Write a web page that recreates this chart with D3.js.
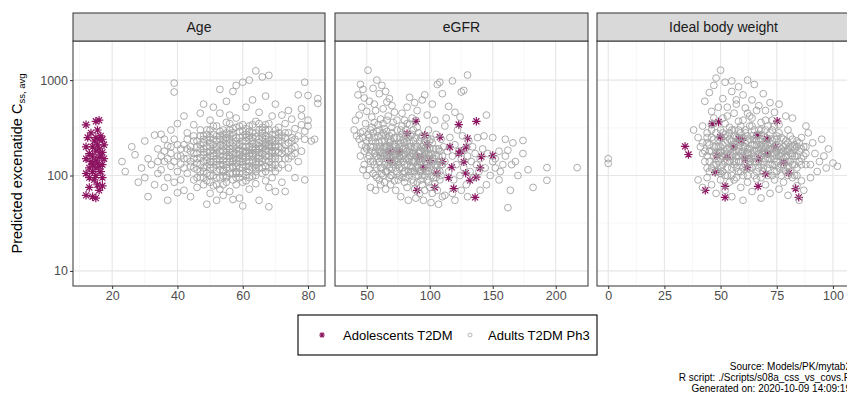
<!DOCTYPE html>
<html>
<head>
<meta charset="utf-8">
<script src="https://cdn.jsdelivr.net/npm/d3@7"></script>
<style>
  body { margin: 0; background: #fff; }
  svg { display: block; font-family: "Liberation Sans", Arial, sans-serif; }
</style>
</head>
<body>
<svg id="chart" width="847" height="398"></svg>
<script>
// Predicted Css,avg vs covariates, three facets

const panelNames = ["Age", "eGFR", "Ideal body weight"];
const yTicks = [10, 100, 1000];
const xTicks = [[20, 40, 60, 80], [50, 100, 150, 200], [0, 25, 50, 75, 100]];
const legendLabels = ["Adolescents T2DM", "Adults T2DM Ph3"];
const captionLines = [
    "Source: Models/PK/mytab2",
    "R script: ./Scripts/s08a_css_vs_covs.R",
    "Generated on: 2020-10-09 14:09:19"
];

// adolescents [covariate, css]
const teensAge = [[12,340],[12,150],[12,105],[12,200],[12.5,250],[13,120],[13,170],[13,75],[13,95],[13.5,280],
    [13.5,140],[14,200],[14,60],[14,130],[14,160],[14,110],[14.5,230],[14.5,90],[15,370],[15,180],[15,145],[15,58],
    [15,120],[15,250],[15,100],[15.5,300],[15.5,210],[15.5,135],[15.5,80],[16,380],[16,155],[16,240],[16,125],[16,190],
    [16,70],[16.5,260],[16.5,165],[16.5,110],[17,240],[17,175],[17,130],[17,78],[17,95],[17.5,150],[17.5,210],[12,62]];
const teensEgfr = [[89,370],[123,342],[137,370],[108,253],[68.5,177],[68.5,144],[96,264],[130,245],[123,170],[127,139],
    [141,158],[150,162],[128.5,106],[104,75],[90,70],[119,73],[136,59],[105.5,106],[137,96],[76,177],[92,156],[100,144],
    [117.5,122],[132,89],[116,199],[129,199],[82,275],[95,122],[110,140],[125,180],[140,120],[98,210],[115,95]];
const teensIbw = [[34.2,202],[35.7,166],[46.2,350],[49.1,364],[75.2,372],[49.9,253],[58,243],[66.3,264],[70.7,243],
    [48.4,162],[52.9,156],[61,150],[67,150],[70.7,169],[78.1,138],[80.4,106],[47.6,108],[61.8,122],[70,104],[52,77],
    [66.7,77],[43.2,70],[52,59],[83.4,73],[84.8,59],[55.8,199],[59.6,233],[74.4,199]];

// adults [covariate, css]
const adultsAge = [[23,140],[24,110],[26,200],[27,165],[28,85],[29,120],[30,95],[30,230],[31,60],[31,150],[32,130],
    [33,265],[33,80],[34,190],[34,105],[35,115],[35,270],[36,140],[36,75],[37,205],[37,95],[37,55],[38,170],[38,125],
    [38,300],[39,930],[39,750],[39,85],[39,240],[40,160],[40,110],[40,66],[40,350],[41,190],[41,132],[41,90],[42,420],
    [42,70],[42,210],[43,150],[43,105],[43,280],[44,180],[44,60],[44,125],[45,230],[45,90],[45,150],[45,340],[46,200],
    [46,115],[46,75],[46,170],[47,260],[47,130],[47,95],[47,450],[47,190],[48,560],[48,140],[48,80],[48,220],[48,165],
    [48,110],[49,300],[49,50],[49,175],[49,125],[49,240],[49,88],[50,140],[50,200],[50,380],[50,100],[50,65],[50,160],
    [51,270],[51,120],[51,185],[51,78],[51,520],[52,150],[52,230],[52,95],[52,170],[52,330],[52,55],[53,130],[53,210],
    [53,800],[53,115],[53,450],[53,260],[53,72],[54,180],[54,145],[54,98],[54,300],[54,62],[54,240],[55,160],[55,120],
    [55,600],[55,210],[55,85],[55,360],[55,190],[56,140],[56,270],[56,105],[56,175],[56,68],[56,430],[57,220],[57,150],
    [57,90],[57,310],[57,125],[57,760],[57,56],[58,190],[58,135],[58,250],[58,110],[58,880],[58,400],[58,80],[59,165],
    [59,210],[59,120],[59,290],[59,58],[59,95],[60,180],[60,140],[60,950],[60,340],[60,230],[60,105],[60,48],[61,200],
    [61,155],[61,270],[61,88],[61,125],[61,520],[62,170],[62,240],[62,1000],[62,115],[62,72],[62,330],[63,190],[63,145],
    [63,280],[63,98],[63,620],[63,215],[64,160],[64,1250],[64,255],[64,120],[64,370],[64,82],[65,200],[65,175],[65,300],
    [65,135],[65,55],[65,460],[66,230],[66,150],[66,1080],[66,105],[66,280],[67,190],[67,260],[67,125],[67,680],[67,88],
    [67,340],[68,210],[68,160],[68,1120],[68,300],[68,75],[68,47],[69,240],[69,180],[69,130],[69,420],[69,95],[70,270],
    [70,200],[70,150],[70,560],[70,110],[70,68],[71,230],[71,320],[71,175],[71,120],[72,260],[72,190],[72,430],[72,85],
    [73,210],[73,150],[73,350],[73,68],[74,280],[74,180],[74,120],[74,480],[75,230],[75,160],[75,390],[76,200],[76,310],
    [76,95],[77,260],[77,140],[77,700],[78,340],[78,180],[78,420],[78,500],[79,240],[79,950],[79,290],[79,90],[80,380],
    [80,690],[80,330],[81,230],[82,240],[83,640],[83,570],
    [46,135],[47,155],[48,190],[49,145],[50,120],[50,250],[51,160],[51,210],[52,130],[52,190],[53,160],[53,240],[54,130],
    [54,200],[55,140],[55,250],[56,160],[56,220],[57,180],[57,260],[58,150],[58,210],[59,140],[59,190],[60,160],[60,260],
    [61,180],[61,230],[62,140],[62,200],[63,170],[63,250],[64,190],[64,140],[65,220],[65,160],[66,190],[66,250],[67,160],
    [67,220],[68,180],[68,250],[69,200],[69,150],[70,230],[70,180],[52,110],[55,100],[58,105],[61,110],[64,100],[67,110],
    [48,260],[56,300],[62,290],[66,320],[60,120],[57,120],[54,115],[63,120],
    [44,200],[44,140],[45,120],[45,260],[45,170],[46,230],[46,150],[46,95],[47,210],[47,110],[47,300],[48,175],[48,240],
    [48,120],[48,95],[49,200],[49,155],[49,270],[49,105],[50,180],[50,130],[50,220],[50,85],[50,300],[51,140],[51,240],
    [51,100],[51,170],[51,330],[52,200],[52,260],[52,140],[52,80],[53,180],[53,145],[53,290],[53,95],[54,160],[54,220],
    [54,270],[54,110],[54,80],[55,175],[55,230],[55,130],[55,280],[55,95],[56,190],[56,240],[56,120],[56,150],[56,350],
    [57,165],[57,200],[57,280],[57,105],[57,140],[58,170],[58,230],[58,125],[58,320],[58,95],[59,180],[59,250],[59,150],
    [59,105],[59,330],[60,200],[60,150],[60,290],[60,130],[60,85],[61,170],[61,140],[61,250],[61,310],[61,100],[62,185],
    [62,160],[62,260],[62,125],[62,95],[63,200],[63,160],[63,230],[63,135],[63,340],[64,210],[64,175],[64,280],[64,130],
    [64,110],[65,190],[65,240],[65,150],[65,120],[65,350],[66,200],[66,170],[66,140],[66,300],[66,120],[67,210],[67,180],
    [67,240],[67,145],[67,300],[68,230],[68,200],[68,140],[68,120],[68,350],[69,220],[69,170],[69,270],[69,120],[70,210],
    [70,160],[70,300],[70,130],[71,250],[71,200],[71,150],[71,280],[72,230],[72,170],[72,130],[73,250],[73,180],[73,280],
    [74,220],[74,150],[75,250],[75,190],[76,240],[76,170],[42,150],[42,120],[43,190],[43,240],[41,160],[40,210],[39,140],
    [38,200],[36,180],[36,240],[37,150],[35,160],[34,140]];
const adultsEgfr = [[51,1270],[45,900],[47,800],[43,700],[55,820],[48,650],[52,600],[56,560],[60,720],[62,880],[65,760],
    [58,1000],[68,640],[46,520],[50,470],[44,430],[41,380],[57,480],[63,500],[66,590],[70,540],[72,460],[54,410],[49,350],
    [61,390],[67,420],[74,380],[40,300],[42,260],[44,240],[46,210],[47,290],[48,180],[50,230],[51,270],[52,160],[53,200],
    [54,320],[55,140],[56,250],[57,180],[58,290],[59,150],[60,220],[61,120],[62,260],[63,170],[64,310],[65,140],[66,200],
    [67,240],[68,160],[69,190],[70,280],[71,130],[72,210],[73,170],[74,250],[75,150],[48,130],[52,115],[55,105],[58,95],
    [60,90],[62,105],[64,85],[66,110],[68,95],[70,100],[72,88],[74,110],[53,75],[57,70],[61,80],[65,72],[69,80],[73,70],
    [50,100],[45,160],[47,115],[76,200],[77,300],[78,160],[79,240],[80,130],[81,190],[82,350],[83,150],[84,220],[85,110],
    [86,270],[87,170],[88,140],[89,210],[90,320],[91,120],[92,180],[93,250],[94,100],[95,160],[96,230],[97,140],[98,190],
    [99,300],[100,120],[101,170],[102,220],[103,95],[104,150],[105,270],[106,130],[107,190],[108,110],[109,240],[110,160],
    [76,120],[78,95],[80,85],[82,75],[84,100],[86,90],[88,72],[90,85],[92,65],[94,80],[96,70],[98,90],[100,75],[102,65],
    [104,82],[106,70],[108,90],[110,60],[77,60],[83,55],[89,58],[95,55],[101,52],[107,50],[112,62],[75,180],[79,140],
    [81,260],[83,200],[85,160],[87,230],[89,120],[91,280],[93,140],[95,210],[97,110],[99,170],[101,240],[103,140],[105,190],
    [107,160],[109,130],[111,200],[78,450],[82,520],[86,400],[90,480],[94,620],[98,430],[102,560],[106,900],[108,950],
    [110,720],[104,380],[96,700],[88,580],[84,660],[80,380],[115,530],[120,460],[113,400],[124,410],[125,750],[118,980],
    [112,330],[130,1130],[127,780],[145,430],[112,140],[114,180],[115,110],[116,250],[118,160],[119,90],[120,210],
    [121,130],[122,300],[123,180],[124,100],[125,150],[126,260],[127,120],[128,190],[129,80],[130,160],[131,230],[132,110],
    [133,140],[134,200],[135,95],[136,170],[137,130],[138,250],[139,110],[140,150],[142,190],[144,120],[146,170],[148,100],
    [150,140],[152,120],[155,180],[158,130],[152,150],[156,110],[160,160],[162,184],[165,130],[168,140],[170,100],[174,233],
    [174,170],[178,115],[182,75],[164,70],[162,46],[193,121],[193,89],[217,121],[160,240],[166,220],[150,250],[155,90],
    [145,80],[140,70],[130,60],[120,55],[125,70],[118,65],[143,260],
    [60,180],[64,200],[68,220],[72,180],[76,160],[80,170],[84,180],[88,190],[92,150],[96,180],[100,190],[66,160],[70,140],
    [74,140],[78,200],[82,230],[86,140],[90,160],[94,200],[98,150],[62,150],[58,200],[56,170],[54,230],[64,130],[76,100],
    [86,120],[92,110],[98,120],[104,110],
    [50,190],[52,250],[53,140],[54,180],[55,280],[56,130],[57,220],[58,160],[59,260],[60,140],[60,300],[61,200],[61,160],
    [62,230],[62,120],[63,190],[63,280],[64,160],[64,230],[65,200],[65,260],[65,110],[66,150],[66,290],[67,180],[67,130],
    [68,200],[68,260],[68,120],[69,150],[69,230],[70,180],[70,120],[70,320],[71,210],[71,160],[72,250],[72,140],[73,200],
    [73,120],[74,170],[74,300],[75,210],[75,130],[76,250],[76,180],[77,150],[77,220],[78,120],[78,270],[79,190],[79,160],
    [80,220],[80,110],[81,150],[81,300],[82,180],[82,130],[83,250],[83,110],[84,160],[84,140],[85,200],[85,260],[86,170],
    [86,110],[87,140],[87,300],[88,200],[88,110],[89,160],[89,250],[90,130],[90,200],[91,170],[91,100],[92,230],[92,140],
    [93,180],[93,110],[94,150],[94,260],[95,120],[95,190],[96,150],[96,100],[97,200],[97,170],[98,130],[98,250],[99,110],
    [99,150],[100,160],[100,230],[101,130],[102,150],[102,100],[103,190],[104,130],[105,160],[106,110],[107,140],[108,180],
    [109,100],[110,130],[63,350],[66,380],[59,340],[71,360],[78,330],[84,340],[89,380],[56,360],[53,300],[58,120],[57,100],
    [63,100],[69,100],[75,90],[81,95],[87,85],[93,90],[99,85],[105,95],[79,105],[85,125],[91,145],[73,145],[67,165],
    [61,175],[55,200],[51,150],[49,200],[47,250],[45,280]];
const adultsIbw = [[0,150],[0,134],[50,1270],[48,1050],[52,950],[47,880],[55,980],[58,850],[62,1000],[65,900],[69,720],
    [55,760],[60,700],[45,740],[51,640],[57,620],[64,620],[72,580],[76,560],[67,540],[43,600],[53,520],[61,510],[70,480],
    [74,460],[46,470],[56,450],[79,420],[82,400],[38,300],[40,250],[41,200],[42,170],[42,330],[43,140],[44,220],[44,280],
    [45,180],[46,120],[46,250],[47,160],[47,350],[48,200],[48,130],[49,240],[49,170],[50,300],[50,150],[51,210],[51,110],
    [52,270],[52,180],[53,140],[53,230],[54,320],[54,160],[55,200],[55,120],[56,260],[56,170],[57,140],[57,220],[58,300],
    [58,180],[59,110],[59,240],[60,160],[60,200],[61,130],[61,280],[62,190],[62,150],[63,240],[63,120],[64,170],[64,330],
    [65,210],[65,140],[66,260],[66,180],[67,120],[67,230],[68,160],[68,300],[69,200],[69,140],[70,250],[70,170],[71,120],
    [71,210],[72,280],[72,150],[73,190],[73,130],[74,240],[74,170],[75,110],[75,210],[76,160],[76,280],[77,190],[77,130],
    [78,240],[78,150],[79,180],[79,110],[80,220],[80,140],[81,170],[81,260],[82,130],[82,200],[83,160],[84,230],[84,120],
    [85,180],[86,150],[86,250],[87,200],[88,130],[88,170],[40,90],[42,75],[44,95],[46,80],[48,65],[50,90],[52,70],[54,85],
    [55,60],[57,95],[59,75],[60,55],[62,85],[64,68],[66,92],[68,58],[70,80],[72,65],[74,90],[76,72],[78,85],[80,62],
    [82,95],[84,78],[86,88],[45,140],[49,110],[53,100],[56,130],[58,140],[60,120],[63,150],[65,100],[67,170],[69,110],
    [71,150],[73,100],[75,140],[77,100],[79,140],[81,110],[83,100],[50,200],[54,240],[58,250],[62,230],[66,210],[70,200],
    [74,200],[78,200],[52,350],[60,380],[68,360],[76,340],[90,130],[92,170],[94,140],[96,160],[97,120],[98,190],[100,135],
    [102,125],[91,220],[93,110],[95,240],[89,280],[88,330],[90,95],[87,70],[85,55],
    [44,160],[47,200],[50,175],[53,190],[56,210],[59,170],[62,175],[65,180],[68,190],[71,180],[74,150],[77,160],[80,180],
    [83,210],[48,150],[52,160],[57,160],[61,220],[64,150],[69,170],[72,220],[75,180],[79,210],[82,170],[46,300],[51,400],
    [55,300],[59,330],[63,420],[67,300],[71,330],[75,260],[49,520],[57,560],[66,480],[73,380],
    [42,220],[43,180],[44,250],[45,210],[45,110],[46,180],[46,340],[47,130],[47,240],[48,170],[48,280],[48,110],[49,200],
    [49,140],[50,250],[50,120],[50,180],[51,160],[51,280],[51,130],[52,220],[52,140],[52,100],[53,170],[53,260],[53,120],
    [54,190],[54,140],[54,280],[55,160],[55,230],[55,100],[56,200],[56,140],[56,300],[57,180],[57,120],[57,250],[58,200],
    [58,160],[58,110],[59,220],[59,140],[59,280],[60,180],[60,250],[60,100],[61,160],[61,200],[61,300],[62,170],[62,120],
    [62,260],[63,190],[63,140],[63,330],[64,210],[64,120],[64,260],[65,160],[65,240],[65,300],[66,140],[66,230],[66,110],
    [67,190],[67,270],[67,140],[68,210],[68,130],[68,240],[69,180],[69,260],[69,120],[70,150],[70,220],[70,300],[71,170],
    [71,240],[71,100],[72,190],[72,130],[73,160],[73,230],[73,300],[74,130],[74,190],[75,160],[75,240],[76,200],[76,120],
    [77,170],[77,250],[78,130],[78,180],[79,230],[79,160],[80,190],[80,120],[81,200],[81,140],[82,160],[82,240],[83,130],
    [83,190],[84,160],[84,200],[85,140],[85,220],[86,130],[86,190],[87,160],[88,200],[58,370],[64,400],[70,380],[53,420],
    [47,400],[62,450],[74,330],[80,300],[56,90],[62,100],[68,95],[74,110],[80,100],[50,105],[44,120],[84,100],[78,120]];

const facets = [
    { name: panelNames[0], teens: teensAge, adults: adultsAge, domain: [8, 85.2], range: [73, 325], ticks: xTicks[0] },
    { name: panelNames[1], teens: teensEgfr, adults: adultsEgfr, domain: [24.8, 225.6], range: [335, 588], ticks: xTicks[1] },
    { name: panelNames[2], teens: teensIbw, adults: adultsIbw, domain: [-5, 107.6], range: [597, 850], ticks: xTicks[2] }
];

const svg = d3.select("#chart");
const plotTop = 41, plotBottom = 286, stripH = 28;
const y = d3.scaleLog().domain([6.95, 2570]).range([plotBottom, plotTop]);
const yMinor = [Math.pow(10, 1.5), Math.pow(10, 2.5)];

const purple = "#8c1461";
const grey = "#a3a3a3";

// asterisk (shape 8): plus + cross
function star(g, cx, cy, r, w) {
    const d = r * 0.72;
    const p = `M${cx - r},${cy}L${cx + r},${cy}M${cx},${cy - r}L${cx},${cy + r}` +
        `M${cx - d},${cy - d}L${cx + d},${cy + d}M${cx - d},${cy + d}L${cx + d},${cy - d}`;
    g.append("path").attr("d", p).attr("stroke", purple).attr("stroke-width", w).attr("fill", "none");
}

facets.forEach((f, i) => {
    const x = d3.scaleLinear().domain(f.domain).range(f.range);
    const [x0, x1] = f.range;
    const g = svg.append("g");

    g.append("clipPath").attr("id", "clip" + i)
        .append("rect").attr("x", x0).attr("y", plotTop).attr("width", x1 - x0).attr("height", plotBottom - plotTop);

    // minor grid
    const step = f.ticks[1] - f.ticks[0];
    const xMinor = f.ticks.map(t => t - step / 2).concat([f.ticks[f.ticks.length - 1] + step / 2])
        .filter(v => v > f.domain[0] + 1 && v < f.domain[1] - 1);
    g.selectAll(".xminor").data(xMinor).join("line")
        .attr("x1", d => x(d)).attr("x2", d => x(d)).attr("y1", plotTop).attr("y2", plotBottom)
        .attr("stroke", "#f2f2f2").attr("stroke-width", 0.6);
    g.selectAll(".yminor").data(yMinor).join("line")
        .attr("x1", x0).attr("x2", x1).attr("y1", d => y(d)).attr("y2", d => y(d))
        .attr("stroke", "#f2f2f2").attr("stroke-width", 0.6);
    // major grid
    g.selectAll(".xmajor").data(f.ticks).join("line")
        .attr("x1", d => x(d)).attr("x2", d => x(d)).attr("y1", plotTop).attr("y2", plotBottom)
        .attr("stroke", "#e6e6e6").attr("stroke-width", 1.1);
    g.selectAll(".ymajor").data(yTicks).join("line")
        .attr("x1", x0).attr("x2", x1).attr("y1", d => y(d)).attr("y2", d => y(d))
        .attr("stroke", "#e6e6e6").attr("stroke-width", 1.1);

    // points: adolescents first, adults on top
    const pts = g.append("g").attr("clip-path", `url(#clip${i})`);
    f.teens.forEach(d => star(pts, x(d[0]), y(d[1]), 4.2, 1.2));
    pts.selectAll("circle").data(f.adults).join("circle")
        .attr("cx", d => x(d[0])).attr("cy", d => y(d[1])).attr("r", 3.4)
        .attr("fill", "none").attr("stroke", grey).attr("stroke-width", 0.9);

    // panel border
    g.append("rect").attr("x", x0).attr("y", plotTop).attr("width", x1 - x0).attr("height", plotBottom - plotTop)
        .attr("fill", "none").attr("stroke", "#333").attr("stroke-width", 1);

    // strip
    g.append("rect").attr("x", x0).attr("y", plotTop - stripH).attr("width", x1 - x0).attr("height", stripH)
        .attr("fill", "#d9d9d9").attr("stroke", "#333").attr("stroke-width", 1);
    g.append("text").attr("x", (x0 + Math.min(x1, 850)) / 2).attr("y", plotTop - stripH / 2 + 5)
        .attr("text-anchor", "middle").attr("font-size", 14).attr("fill", "#1a1a1a").text(f.name);

    // x axis
    const xa = g.append("g").attr("transform", `translate(0,${plotBottom})`)
        .call(d3.axisBottom(x).tickValues(f.ticks).tickSize(3).tickPadding(2));
    xa.select(".domain").remove();
    xa.selectAll("line").attr("stroke", "#333");
    xa.selectAll("text").attr("font-size", 12.5).attr("fill", "#4d4d4d").attr("font-family", null);
});

// y axis on first panel
const ya = svg.append("g").attr("transform", "translate(73,0)")
    .call(d3.axisLeft(y).tickValues(yTicks).tickFormat(d3.format("d")).tickSize(3).tickPadding(2));
ya.select(".domain").remove();
ya.selectAll("line").attr("stroke", "#333");
ya.selectAll("text").attr("font-size", 12.5).attr("fill", "#4d4d4d").attr("font-family", null);

// y title
const yt = svg.append("text").attr("transform", `translate(22,${(plotTop + plotBottom) / 2}) rotate(-90)`)
    .attr("text-anchor", "middle").attr("font-size", 14.5).attr("fill", "#000");
yt.append("tspan").text("Predicted excenatide C");
yt.append("tspan").attr("font-size", 9.5).attr("dy", 3).text("ss, avg");

// legend
const lg = svg.append("g");
lg.append("rect").attr("x", 298).attr("y", 315).attr("width", 299).attr("height", 40)
    .attr("fill", "#fff").attr("stroke", "#000").attr("stroke-width", 1.1);
star(lg, 322, 335, 2.8, 1.1);
lg.append("text").attr("x", 343).attr("y", 339.5).attr("font-size", 13).attr("fill", "#000").text(legendLabels[0]);
lg.append("circle").attr("cx", 470).attr("cy", 335).attr("r", 2)
    .attr("fill", "none").attr("stroke", grey).attr("stroke-width", 0.75);
lg.append("text").attr("x", 488).attr("y", 339.5).attr("font-size", 13).attr("fill", "#000").text(legendLabels[1]);

// caption
svg.append("g").selectAll("text").data(captionLines).join("text")
    .attr("x", 851).attr("y", (d, i) => 370 + i * 11)
    .attr("text-anchor", "end").attr("font-size", 10).attr("fill", "#000").text(d => d);
</script>
</body>
</html>
